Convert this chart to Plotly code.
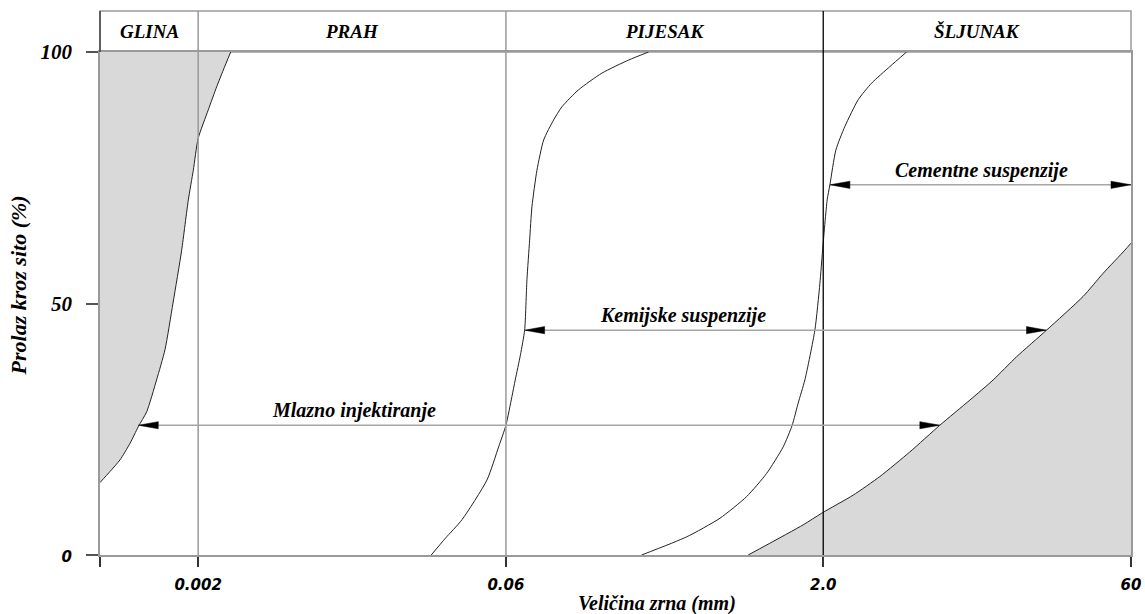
import math
import plotly.graph_objects as go

# ---------------- data ----------------
band_names = ["GLINA", "PRAH", "PIJESAK", "ŠLJUNAK"]
band_bounds = [0.000676, 0.002, 0.06, 2.0, 60.0]

x_tick_vals = [0.000676, 0.002, 0.06, 2.0, 60.0]
x_tick_text = ["", "0.002", "0.06", "2.0", "60"]
y_tick_vals = [0, 50, 100]
y_tick_text = ['<span style="font-family:DejaVu Sans;font-size:15px">0</span>', "50", "100"]

# clay boundary curve (left shaded area)
clay_x = [0.000676, 0.000755, 0.000843, 0.000942, 0.001032, 0.001133, 0.001263,
          0.001386, 0.001515, 0.001667, 0.001794, 0.001896, 0.0020, 0.002237, 0.002455,
          0.002640, 0.002865]
clay_y = [14.4, 16.6, 18.9, 22.2, 25.5, 28.5, 34.8,
          40.8, 50.1, 60.6, 70.6, 76.5, 82.8, 88.5, 93.1,
          96.4, 100]

# sand grading curve
sand_x = [0.02629, 0.03069, 0.03690, 0.04864, 0.05536, 0.0600, 0.06412, 0.06649, 0.07044,
          0.07378, 0.07568, 0.07798, 0.07998, 0.08453, 0.09104, 0.10164, 0.1114, 0.1340,
          0.1733, 0.2328, 0.2904]
sand_y = [0, 3.3, 7.0, 14.9, 21.5, 25.8, 31.5, 34.8, 39.8,
          44.7, 54.7, 62.6, 69.2, 76.5, 82.5, 86.5, 89.1, 92.5,
          95.8, 98.4, 100]

# gravel grading curve
gravel_x = [0.2687, 0.4418, 0.6383, 0.8571, 1.0693, 1.2849, 1.4191, 1.5161, 1.6326,
            1.8235, 1.9275, 1.9861, 2.0893, 2.1529, 2.2997, 2.5401, 2.9425, 3.4122,
            4.1767, 5.0223]
gravel_y = [0, 3.6, 7.3, 11.6, 16.2, 21.5, 25.8, 30.2, 34.8,
            44.7, 54.0, 60.6, 70.6, 73.6, 80.5, 85.2, 90.5, 93.8,
            97.1, 100]

# coarse boundary curve (right shaded area)
coarse_x = [0.8726, 1.6025, 1.9642, 2.7838, 3.7393, 5.2120, 7.2561, 10.11, 13.08,
            16.93, 23.59, 35.34, 44.09, 56.03, 60.0]
coarse_y = [0, 6.0, 8.3, 11.9, 15.6, 20.5, 25.8, 30.8, 34.8,
            39.4, 44.7, 51.4, 56.0, 60.6, 62.0]

# injection method ranges
arrow_labels = ["Mlazno injektiranje", "Kemijske suspenzije", "Cementne suspenzije"]
arrow_y = [25.8, 44.7, 73.6]
arrow_from = [0.001032, 0.07378, 2.1529]
arrow_to = [7.2561, 23.59, 60.0]
label_x = [0.01119, 0.4242, 11.54]
label_y = [28.8, 47.7, 76.5]

x_title = "Veličina zrna (mm)"
y_title = "Prolaz kroz sito (%)"

# ---------------- style ----------------
SERIF = "Liberation Serif, Times New Roman, serif"
SANS = "DejaVu Sans, sans-serif"
GRAY = "#9a9a9a"
FILL = "#d9d9d9"
HEADER_TOP = 1.0815

fig = go.Figure()

# shaded regions
fig.add_trace(go.Scatter(
    x=clay_x + [clay_x[0]], y=clay_y + [clay_y[-1]],
    fill="toself", fillcolor=FILL, mode="lines", line=dict(width=0),
    hoverinfo="skip", showlegend=False))
fig.add_trace(go.Scatter(
    x=coarse_x + [coarse_x[-1]], y=coarse_y + [coarse_y[0]],
    fill="toself", fillcolor=FILL, mode="lines", line=dict(width=0),
    hoverinfo="skip", showlegend=False))

for cx, cy in [(clay_x, clay_y), (sand_x, sand_y), (gravel_x, gravel_y), (coarse_x, coarse_y)]:
    fig.add_trace(go.Scatter(x=cx, y=cy, mode="lines",
                             line=dict(color="#222222", width=1, shape="spline", smoothing=0.6),
                             hoverinfo="skip", showlegend=False))

shapes = []
# header band
shapes.append(dict(type="rect", xref="paper", yref="paper", x0=0, x1=1, y0=1, y1=HEADER_TOP,
                   line=dict(color=GRAY, width=1.5), fillcolor="white", layer="below"))
# vertical band boundaries
for b in band_bounds[1:-1]:
    col = "black" if b == 2.0 else GRAY
    shapes.append(dict(type="line", xref="x", yref="paper", x0=b, x1=b, y0=0, y1=HEADER_TOP,
                       line=dict(color=col, width=1.3 if b == 2.0 else 1.5), layer="above"))
shapes.append(dict(type="line", xref="paper", yref="paper", x0=0, x1=0, y0=1, y1=HEADER_TOP,
                   line=dict(color="#333333", width=1.3)))

# arrows
for yv, x0, x1 in zip(arrow_y, arrow_from, arrow_to):
    shapes.append(dict(type="line", xref="x", yref="y", x0=x0, x1=x1, y0=yv, y1=yv,
                       line=dict(color="#a6a6a6", width=1.5), layer="above"))
    shapes.append(dict(type="path", xref="x", yref="y", xsizemode="pixel", ysizemode="pixel",
                       xanchor=x0, yanchor=yv, path="M0,0 L20,-3.6 L20,3.6 Z",
                       fillcolor="black", line=dict(color="black", width=0.5), layer="above"))
    shapes.append(dict(type="path", xref="x", yref="y", xsizemode="pixel", ysizemode="pixel",
                       xanchor=x1, yanchor=yv, path="M0,0 L-20,-3.6 L-20,3.6 Z",
                       fillcolor="black", line=dict(color="black", width=0.5), layer="above"))

annotations = []
for i, name in enumerate(band_names):
    xm = (math.log10(band_bounds[i]) + math.log10(band_bounds[i + 1])) / 2
    annotations.append(dict(x=xm, y=(1 + HEADER_TOP) / 2, xref="x", yref="paper", text=name,
                            showarrow=False, xanchor="center", yanchor="middle",
                            font=dict(family=SERIF, size=19, color="black",
                                      weight="bold", style="italic")))
for t, lx, ly in zip(arrow_labels, label_x, label_y):
    annotations.append(dict(x=math.log10(lx), y=ly, xref="x", yref="y", text=t,
                            showarrow=False, xanchor="center", yanchor="middle",
                            font=dict(family=SERIF, size=20, color="black",
                                      weight="bold", style="italic")))
annotations.append(dict(x=0.540, y=-0.097, xref="paper", yref="paper", text=x_title,
                        showarrow=False, xanchor="center", yanchor="middle",
                        font=dict(family=SERIF, size=20, color="black",
                                  weight="bold", style="italic")))
annotations.append(dict(x=-0.079, y=0.535, xref="paper", yref="paper", text=y_title,
                        showarrow=False, xanchor="center", yanchor="middle", textangle=-90,
                        font=dict(family=SERIF, size=22, color="black",
                                  weight="bold", style="italic")))

fig.update_layout(
    width=1145, height=614,
    margin=dict(l=100, r=14, t=52, b=59, autoexpand=False),
    plot_bgcolor="white", paper_bgcolor="white",
    shapes=shapes, annotations=annotations,
    showlegend=False,
    xaxis=dict(type="log", range=[math.log10(band_bounds[0]), math.log10(band_bounds[-1])],
               tickvals=x_tick_vals, ticktext=x_tick_text,
               ticks="outside", ticklen=10, tickwidth=1.5, tickcolor="#333333",
               showgrid=False, zeroline=False, showline=True, linecolor=GRAY, linewidth=1.5,
               mirror=True, ticklabelstandoff=5,
               tickfont=dict(family=SANS, size=15, color="black", weight="bold", style="italic")),
    yaxis=dict(range=[0, 100], tickvals=y_tick_vals, ticktext=y_tick_text,
               ticks="outside", ticklen=12, tickwidth=1.5, tickcolor="#555555",
               showgrid=False, zeroline=False, showline=True, linecolor=GRAY, linewidth=1.5,
               mirror=True, ticklabelstandoff=10,
               tickfont=dict(family=SERIF, size=21, color="black", weight="bold", style="italic")),
)

fig.write_html("out.html", config={"displayModeBar": False},
               post_script="document.body.style.margin='0';document.body.style.padding='0';")
